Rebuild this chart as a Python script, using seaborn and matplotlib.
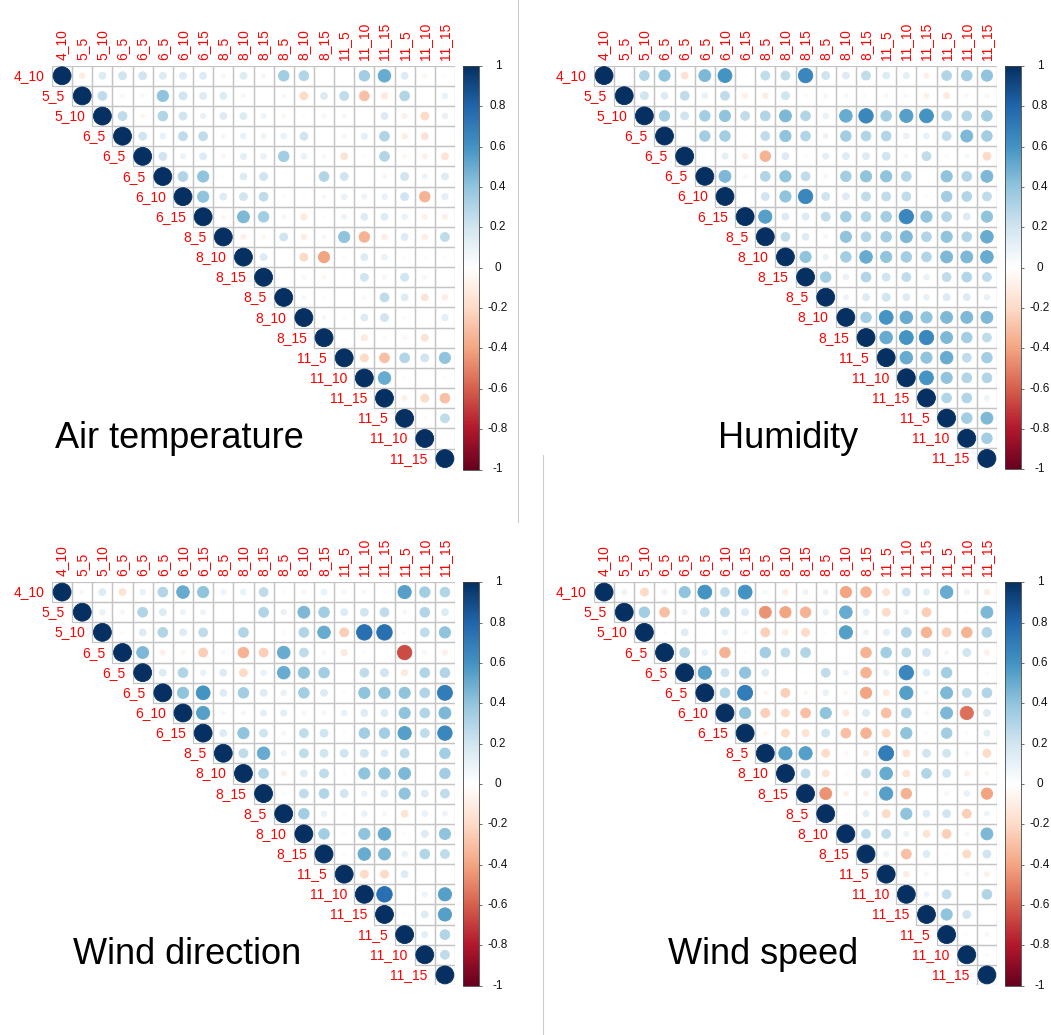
import numpy as np
import pandas as pd
import matplotlib
matplotlib.use("Agg")
import matplotlib.pyplot as plt
import matplotlib.transforms as mtransforms
from matplotlib.colors import LinearSegmentedColormap, Normalize
from matplotlib.patches import Rectangle
from matplotlib.lines import Line2D
from matplotlib.cm import ScalarMappable
import seaborn as sns

# Sensor labels (month_height), shared by all four matrices
labels = ["4_10", "5_5", "5_10", "6_5", "6_5", "6_5", "6_10", "6_15",
          "8_5", "8_10", "8_15", "8_5", "8_10", "8_15",
          "11_5", "11_10", "11_15", "11_5", "11_10", "11_15"]

# Upper-triangle correlations: row i holds the values for columns i+1 .. n-1
air_temperature = [
    [-0.1, 0.15, 0.2, 0.2, 0.15, 0.15, 0.15, 0.05, 0.15, 0.05, 0.35, 0.3, 0.0, 0.0, 0.35, 0.5, 0.15, -0.05, 0.02],
    [0.25, -0.05, -0.05, 0.4, 0.2, 0.15, 0.15, 0.05, 0.02, -0.05, -0.2, 0.15, 0.25, -0.3, -0.12, 0.3, 0.0, 0.1],
    [0.25, -0.05, 0.3, 0.2, 0.1, 0.15, 0.15, 0.08, -0.05, 0.02, 0.05, 0.05, 0.0, 0.15, -0.08, -0.2, 0.1],
    [0.2, 0.1, 0.25, 0.25, 0.05, 0.1, 0.08, 0.1, 0.2, -0.02, 0.05, 0.12, 0.3, -0.1, -0.15, 0.0],
    [0.2, 0.08, 0.15, -0.05, 0.12, 0.1, 0.35, 0.1, 0.05, -0.15, 0.02, 0.3, -0.05, -0.08, -0.15],
    [0.3, 0.4, 0.03, 0.15, 0.2, 0.0, -0.02, 0.3, 0.2, 0.01, 0.05, 0.2, 0.08, 0.15],
    [0.4, 0.15, 0.2, 0.25, -0.03, -0.02, 0.05, 0.1, 0.08, 0.1, 0.2, -0.35, 0.12],
    [-0.05, 0.45, 0.35, 0.05, -0.12, -0.02, 0.08, 0.15, 0.15, 0.1, -0.08, -0.08],
    [-0.08, -0.05, 0.2, -0.1, 0.05, 0.4, -0.35, -0.1, 0.15, -0.1, 0.25],
    [0.15, 0.0, -0.2, -0.4, 0.03, 0.15, 0.1, 0.03, -0.03, 0.03],
    [-0.02, -0.05, -0.05, -0.02, 0.2, 0.05, 0.2, 0.05, 0.01],
    [0.05, 0.02, 0.01, -0.05, 0.25, 0.15, -0.15, -0.1],
    [0.05, -0.03, 0.15, 0.2, -0.03, 0.01, 0.12],
    [0.01, -0.12, 0.03, -0.05, -0.15, 0.0],
    [-0.2, -0.3, 0.3, 0.2, 0.4],
    [0.5, 0.03, -0.01, -0.03],
    [-0.08, -0.2, -0.3],
    [0.03, 0.25],
    [0.01],
]

humidity = [
    [0.0, 0.3, 0.4, -0.15, 0.45, 0.6, -0.02, 0.25, 0.25, 0.65, 0.2, 0.15, 0.25, 0.15, 0.12, -0.08, 0.3, 0.35, 0.4],
    [0.2, 0.15, 0.25, 0.1, 0.25, -0.08, -0.1, 0.2, 0.03, 0.05, -0.05, -0.03, -0.05, -0.05, -0.08, -0.12, -0.05, 0.05],
    [0.35, 0.2, 0.35, 0.4, 0.25, 0.3, 0.45, 0.3, 0.1, 0.5, 0.65, 0.35, 0.55, 0.6, 0.3, 0.3, 0.35],
    [0.02, 0.35, 0.35, 0.02, 0.25, 0.4, 0.3, 0.08, 0.35, 0.3, 0.3, 0.1, 0.1, 0.25, 0.45, 0.35],
    [0.01, 0.12, -0.1, -0.35, 0.15, 0.03, 0.12, 0.15, 0.15, 0.2, 0.05, 0.25, -0.03, 0.05, -0.2],
    [0.45, -0.05, 0.3, 0.4, 0.25, 0.05, 0.35, 0.4, 0.4, 0.3, 0.01, 0.4, 0.3, 0.45],
    [0.01, 0.2, 0.4, 0.65, 0.2, 0.15, 0.25, 0.25, 0.25, -0.02, 0.35, 0.3, 0.25],
    [0.55, 0.15, 0.15, 0.25, 0.35, 0.3, 0.35, 0.65, 0.4, 0.3, 0.15, 0.4],
    [0.25, 0.15, 0.05, 0.4, 0.3, 0.35, 0.45, 0.3, 0.4, 0.3, 0.5],
    [0.4, 0.1, 0.35, 0.5, 0.4, 0.35, 0.3, 0.45, 0.45, 0.5],
    [0.35, 0.1, 0.3, 0.2, 0.25, 0.1, 0.25, 0.3, 0.25],
    [0.08, 0.15, 0.2, 0.15, 0.1, 0.15, 0.15, 0.1],
    [0.35, 0.6, 0.5, 0.4, 0.45, 0.45, 0.45],
    [0.5, 0.6, 0.65, 0.45, 0.35, 0.25],
    [0.5, 0.4, 0.5, 0.25, 0.35],
    [0.6, 0.4, 0.3, 0.3],
    [0.3, 0.3, 0.08],
    [0.35, 0.45],
    [0.35],
]

wind_direction = [
    [0.05, 0.15, -0.15, 0.1, 0.3, 0.5, 0.4, 0.08, 0.1, 0.25, 0.03, 0.05, 0.1, 0.05, -0.05, 0.02, 0.55, 0.35, 0.3],
    [0.1, 0.05, 0.3, 0.15, 0.08, 0.08, 0.01, 0.01, 0.3, 0.1, 0.45, 0.35, 0.15, 0.2, 0.25, 0.05, 0.3, 0.15],
    [0.03, 0.15, 0.3, 0.15, 0.25, 0.01, 0.3, 0.01, 0.03, 0.3, 0.5, -0.25, 0.75, 0.75, 0.03, 0.25, 0.4],
    [0.45, -0.08, -0.05, -0.25, -0.05, -0.35, -0.25, 0.5, 0.25, 0.05, -0.12, 0.03, 0.02, -0.65, 0.05, -0.08],
    [0.15, 0.3, 0.1, 0.15, -0.2, 0.1, 0.5, 0.4, 0.35, -0.02, 0.25, 0.2, -0.12, 0.3, 0.3],
    [0.4, 0.6, 0.15, 0.35, 0.15, 0.1, 0.35, 0.15, -0.03, 0.4, 0.4, 0.4, 0.3, 0.7],
    [0.55, 0.05, 0.05, 0.12, 0.12, 0.05, 0.05, 0.1, 0.15, 0.15, 0.4, 0.3, 0.45],
    [0.15, 0.4, 0.2, 0.05, 0.25, 0.2, -0.03, 0.35, 0.35, 0.55, 0.25, 0.65],
    [0.25, 0.5, 0.08, 0.25, 0.2, 0.2, 0.2, 0.15, 0.25, 0.0, 0.35],
    [0.3, -0.08, 0.15, 0.25, 0.03, 0.4, 0.4, 0.45, 0.02, 0.35],
    [0.02, 0.25, 0.3, 0.2, 0.1, 0.15, 0.4, 0.15, 0.25],
    [0.35, 0.1, 0.03, 0.1, 0.05, -0.15, 0.1, 0.08],
    [0.35, -0.03, 0.4, 0.5, 0.03, 0.15, 0.4],
    [-0.03, 0.5, 0.45, 0.1, 0.3, 0.25],
    [-0.2, -0.2, 0.15, 0.0, 0.0],
    [0.75, 0.01, 0.08, 0.55],
    [0.02, 0.15, 0.55],
    [0.12, 0.3],
    [0.25],
]

wind_speed = [
    [0.08, -0.2, 0.08, 0.4, 0.6, 0.25, 0.6, 0.05, -0.1, 0.08, 0.08, -0.4, -0.35, -0.15, 0.2, 0.12, 0.5, 0.08, -0.1],
    [0.35, -0.3, 0.08, 0.25, 0.25, 0.15, -0.45, -0.4, -0.35, 0.1, 0.5, 0.12, -0.2, 0.08, -0.25, -0.01, -0.02, 0.45],
    [-0.03, 0.15, -0.02, 0.1, -0.05, -0.25, -0.1, -0.2, -0.02, 0.55, 0.08, 0.12, 0.3, -0.35, -0.25, -0.35, 0.3],
    [0.3, 0.1, -0.35, 0.03, 0.35, 0.25, 0.3, 0.01, 0.0, -0.35, 0.35, 0.25, 0.2, 0.05, 0.2, -0.08],
    [0.55, 0.2, 0.4, 0.15, 0.01, 0.02, 0.25, 0.08, -0.35, 0.1, 0.65, 0.15, 0.35, 0.01, 0.03],
    [0.3, 0.7, -0.05, -0.25, -0.05, 0.1, -0.05, -0.4, -0.12, 0.55, 0.05, 0.45, 0.25, 0.3],
    [0.4, -0.25, -0.2, -0.3, 0.4, -0.12, 0.15, -0.3, 0.3, -0.05, 0.45, -0.55, 0.15],
    [-0.05, -0.2, -0.15, 0.2, -0.3, -0.35, -0.2, 0.4, 0.03, 0.35, 0.03, 0.12],
    [0.55, 0.55, -0.2, -0.05, -0.1, 0.7, -0.15, 0.2, 0.2, 0.05, -0.2],
    [0.25, -0.15, 0.03, 0.25, 0.5, -0.15, 0.3, 0.2, -0.08, -0.05],
    [-0.45, -0.08, -0.08, 0.55, -0.35, -0.01, 0.05, 0.1, -0.4],
    [-0.03, 0.12, -0.2, 0.4, 0.15, 0.2, -0.25, 0.08],
    [0.25, 0.25, 0.08, -0.15, -0.25, 0.05, 0.45],
    [0.08, -0.3, 0.15, -0.03, -0.2, 0.2],
    [-0.1, 0.05, 0.0, 0.05, -0.08],
    [0.08, 0.25, 0.0, 0.3],
    [0.4, 0.2, 0.0],
    [-0.03, 0.05],
    [0.03],
]

titles = ["Air temperature", "Humidity", "Wind direction", "Wind speed"]
matrices = [air_temperature, humidity, wind_direction, wind_speed]
legend_ticks = [round(v, 1) + 0.0 for v in np.linspace(-1, 1, 11)]

sns.set_style("white")
plt.rcParams["font.family"] = ["Liberation Sans", "DejaVu Sans"]

W, H = 1051, 1035
fig = plt.figure(figsize=(W / 100, H / 100), dpi=100)

# RdBu diverging ramp as used by corrplot
rdbu = ["#67001F", "#B2182B", "#D6604D", "#F4A582", "#FDDBC7", "#FFFFFF",
        "#D1E5F0", "#92C5DE", "#4393C3", "#2166AC", "#053061"]
cmap = LinearSegmentedColormap.from_list("corr_rdbu", rdbu)
norm = Normalize(-1, 1)


def px_axes(left, top, w, h):
    return fig.add_axes([left / W, 1 - (top + h) / H, w / W, h / H])


def long_form(upper):
    n = len(labels)
    recs = []
    for i in range(n):
        recs.append((i, i, 1.0))
        if i < len(upper):
            for k, v in enumerate(upper[i]):
                recs.append((i, i + 1 + k, v))
    df = pd.DataFrame(recs, columns=["row", "col", "r"])
    df["mag"] = df["r"].abs()
    return df


# grid left, grid top, title x, title baseline (pixels from top-left)
layout = [(52, 65.7, 55, 448), (594, 65.5, 718, 448),
          (52, 582, 73, 964), (594, 582, 668, 964)]
grid_px = 403
n = len(labels)

for (gl, gt, tx, ty), title, upper in zip(layout, titles, matrices):
    ax = px_axes(gl, gt, grid_px, grid_px)
    df = long_form(upper)

    # cell borders of the upper triangle
    for i in range(n):
        for j in range(i, n):
            ax.add_patch(Rectangle((j - 0.5, i - 0.5), 1, 1, fill=False,
                                   ec="#C4C4C4", lw=0.9, zorder=1))

    # circle area proportional to |r|, outlined in its own fill colour
    sns.scatterplot(data=df, x="col", y="row", hue="r", size="mag",
                    palette=cmap, hue_norm=(-1, 1), sizes=(0, 166),
                    size_norm=(0, 1), legend=False, linewidth=0.6,
                    edgecolor="face", ax=ax, zorder=3)

    ax.set_xlim(-0.5, n - 0.5)
    ax.set_ylim(n - 0.5, -0.5)
    ax.set_axis_off()

    for j, lab in enumerate(labels):
        ax.text(j, -0.5 - 0.28, lab, rotation=90, ha="center", va="bottom",
                color="#FF0000", fontsize=10)
    for i, lab in enumerate(labels):
        ax.text(i - 0.5 - 0.35, i, lab, ha="right", va="center",
                color="#FF0000", fontsize=10)

    # colour legend
    cax = px_axes(gl + 411, gt + 0.3, 16, grid_px + 0.5)
    cb = fig.colorbar(ScalarMappable(norm=norm, cmap=cmap), cax=cax)
    cb.outline.set_linewidth(0.6)
    cb.outline.set_edgecolor("#444444")
    cb.set_ticks(legend_ticks)
    cax.tick_params(axis="y", length=2.2, width=0.5, labelright=False,
                    right=True, colors="#333333")
    trans = mtransforms.blended_transform_factory(cax.transAxes, cax.transData)
    for v in legend_ticks:
        cax.text(2.19, v, f"{v:g}", transform=trans, ha="center",
                 va="center", fontsize=8.5, color="#111111")

    fig.text(tx / W, 1 - ty / H, title, fontsize=26, ha="left",
             va="baseline", color="black")

# thin separators between the panels
fig.add_artist(Line2D([518 / W, 518 / W], [1, 1 - 522 / H],
                      transform=fig.transFigure, color="#CCCCCC", lw=0.8))
fig.add_artist(Line2D([543 / W, 543 / W], [1 - 455 / H, 0],
                      transform=fig.transFigure, color="#CCCCCC", lw=0.8))

fig.savefig("out.png", dpi=100, facecolor="white")
